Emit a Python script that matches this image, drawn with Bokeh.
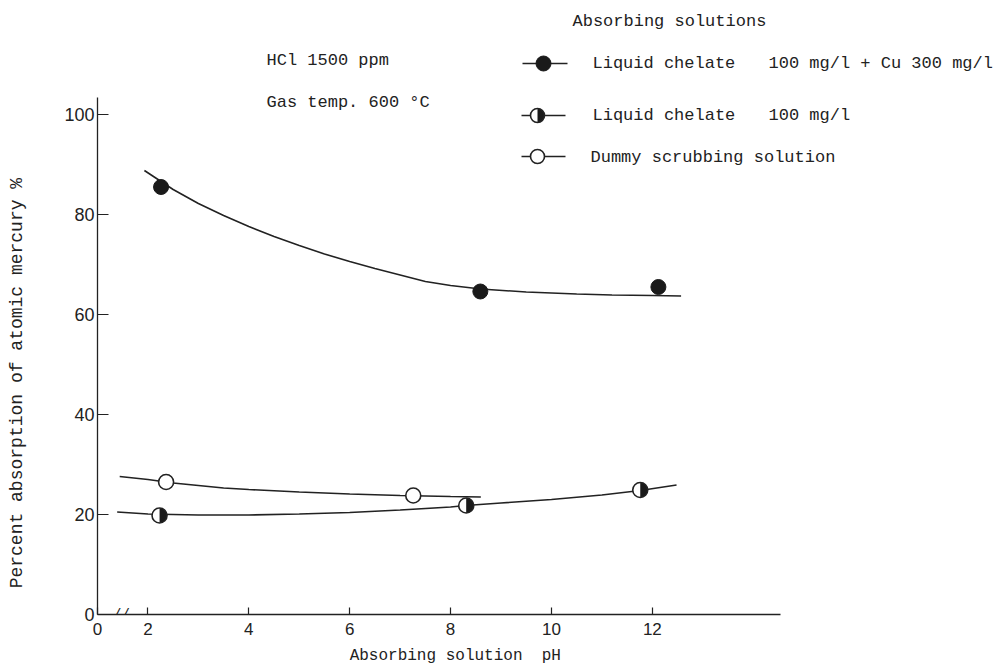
import math
from bokeh.plotting import figure
from bokeh.models import FixedTicker, Range1d
from bokeh.core.properties import value
from bokeh.embed import file_html
from bokeh.resources import INLINE

# ---------------- data ----------------
x_ticks = [1, 2, 4, 6, 8, 10, 12]
x_tick_labels = {1: "0"}
y_ticks = [0, 20, 40, 60, 80, 100]

# Liquid chelate 100 mg/l + Cu 300 mg/l (filled circles)
cu_ph = [2.26, 8.59, 12.12]
cu_pct = [85.5, 64.6, 65.5]
cu_fit_ph = [1.93, 2.5, 3.0, 3.5, 4.0, 4.5, 5.0, 5.5, 6.0, 6.5, 7.0, 7.5, 8.0, 8.6, 9.5, 10.5, 11.2, 12.0, 12.57]
cu_fit_pct = [88.8, 85.0, 82.2, 79.8, 77.6, 75.6, 73.8, 72.1, 70.6, 69.2, 67.9, 66.6, 65.8, 65.1, 64.5, 64.1, 63.9, 63.8, 63.7]

# Liquid chelate 100 mg/l (half-filled circles)
lc_ph = [2.23, 8.31, 11.76]
lc_pct = [19.8, 21.8, 24.9]
lc_fit_ph = [1.39, 2.0, 3.0, 4.0, 5.0, 6.0, 7.0, 8.0, 8.3, 9.0, 10.0, 11.0, 11.76, 12.48]
lc_fit_pct = [20.5, 20.1, 19.9, 19.9, 20.1, 20.4, 20.9, 21.5, 21.8, 22.3, 23.0, 23.9, 24.8, 25.9]

# Dummy scrubbing solution (open circles)
dummy_ph = [2.36, 7.26]
dummy_pct = [26.5, 23.8]
dummy_fit_ph = [1.44, 2.0, 2.5, 3.0, 3.5, 4.0, 5.0, 6.0, 7.0, 8.0, 8.6]
dummy_fit_pct = [27.6, 27.0, 26.3, 25.8, 25.3, 25.0, 24.5, 24.1, 23.8, 23.6, 23.5]

x_title = "Absorbing solution  pH"
y_title = "Percent absorption of atomic mercury %"

# ---------------- layout ----------------
W, H = 995, 667
BL, BB = 97, 53           # left / bottom borders
PX_PER_X = 50.44          # pixels per pH unit
PX_PER_Y = 5.0            # pixels per percent
X0 = 1.0                  # pH value at the y axis
frame_w = W - BL
frame_h = H - BB

def px(xp):   # canvas x pixel -> data x
    return X0 + (xp - BL) / PX_PER_X

def py(yp):   # canvas y pixel -> data y
    return (frame_h - yp) / PX_PER_Y

INK = "#222222"
MONO = "Liberation Mono"
SANS = "Liberation Sans"
NBSP = "\u00a0"

p = figure(width=W, height=H, output_backend="svg", toolbar_location=None,
           x_range=Range1d(X0, X0 + frame_w / PX_PER_X),
           y_range=Range1d(0, frame_h / PX_PER_Y),
           min_border_left=BL, min_border_right=0, min_border_top=0, min_border_bottom=BB)
p.outline_line_color = None
p.grid.visible = False
p.background_fill_color = "white"
p.border_fill_color = "white"

for ax in (p.xaxis[0], p.yaxis[0]):
    ax.axis_line_color = INK
    ax.axis_line_width = 1.3
    ax.major_tick_line_color = INK
    ax.major_tick_line_width = 1.2
    ax.minor_tick_line_color = None
    ax.major_label_text_font = SANS
    ax.major_label_text_color = INK
    ax.axis_label_text_font = MONO
    ax.axis_label_text_font_style = "normal"
    ax.axis_label_text_color = INK

p.xaxis.ticker = FixedTicker(ticks=x_ticks)
p.xaxis.major_label_overrides = x_tick_labels
p.xaxis.bounds = (X0, px(780))
p.xaxis.major_tick_in = 7
p.xaxis.major_tick_out = 0
p.xaxis.major_label_standoff = 8
p.xaxis.major_label_text_font_size = "17px"
# axis titles are centred on the frame; trailing no-break spaces shift the visible words
# to where the reference prints them (and keep the double space before "pH")
p.xaxis.axis_label = x_title.replace("  ", " " + NBSP) + NBSP * 19
p.xaxis.axis_label_text_font_size = "16px"
p.xaxis.axis_label_standoff = 9

p.yaxis.ticker = FixedTicker(ticks=y_ticks)
p.yaxis.bounds = (0, py(97))
p.yaxis.major_tick_in = 11
p.yaxis.major_tick_out = 0
p.yaxis.major_label_standoff = 3
p.yaxis.major_label_text_font_size = "18px"
p.yaxis.axis_label = y_title + NBSP * 14
p.yaxis.axis_label_text_font_size = "18px"
p.yaxis.axis_label_standoff = 34

# axis break mark
p.text(x=[px(121)], y=[0], text=["//"], text_font=value(MONO), text_font_size="14px",
       text_align="center", text_baseline="middle", text_color=INK)

# ---------------- curves ----------------
for fx, fy in ((cu_fit_ph, cu_fit_pct), (lc_fit_ph, lc_fit_pct), (dummy_fit_ph, dummy_fit_pct)):
    p.line(fx, fy, line_color=INK, line_width=1.6)

# ---------------- markers ----------------
MS = 15
def half_marker(xs, ys, size=MS):
    p.scatter(xs, ys, marker="circle", size=size, fill_color="white", line_color=None)
    p.wedge(x=xs, y=ys, radius=size / 2, radius_units="screen",
            start_angle=-math.pi / 2, end_angle=math.pi / 2,
            fill_color="#1a1a1a", line_color=None)
    p.scatter(xs, ys, marker="circle", size=size, fill_color=None, line_color=INK, line_width=1.6)

p.scatter(cu_ph, cu_pct, marker="circle", size=MS, fill_color="#1a1a1a", line_color="#1a1a1a")
p.scatter(dummy_ph, dummy_pct, marker="circle", size=MS, fill_color="white", line_color=INK, line_width=1.6)
half_marker(lc_ph, lc_pct)

# ---------------- legend (drawn by hand) ----------------
def txt(xp, yp, s, size="17px", font=MONO):
    p.text(x=[px(xp)], y=[py(yp)], text=[s], text_font=value(font), text_font_size=size,
           text_align="left", text_baseline="middle", text_color=INK)

txt(572, 21, "Absorbing solutions")
# row 1
p.segment(x0=[px(522)], y0=[py(63)], x1=[px(567)], y1=[py(63)], line_color=INK, line_width=1.6)
p.scatter([px(543)], [py(63)], marker="circle", size=MS, fill_color="#1a1a1a", line_color="#1a1a1a")
txt(592, 63, "Liquid chelate")
txt(768, 63, "100 mg/l + Cu 300 mg/l")
# row 2
p.segment(x0=[px(521)], y0=[py(115)], x1=[px(565)], y1=[py(115)], line_color=INK, line_width=1.6)
half_marker([px(537)], [py(115)], size=14)
txt(592, 115, "Liquid chelate")
txt(768, 115, "100 mg/l")
# row 3
p.segment(x0=[px(521)], y0=[py(156)], x1=[px(565)], y1=[py(156)], line_color=INK, line_width=1.6)
p.scatter([px(537)], [py(156)], marker="circle", size=14, fill_color="white", line_color=INK, line_width=1.6)
txt(590, 157, "Dummy scrubbing solution")

# condition notes
txt(266, 60, "HCl 1500 ppm")
txt(266, 102, "Gas temp. 600 °C")

open("out.html", "w").write(file_html(p, INLINE))
